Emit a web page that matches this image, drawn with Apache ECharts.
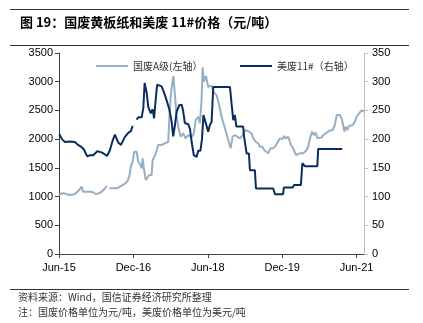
<!DOCTYPE html>
<html>
<head>
<meta charset="utf-8">
<script src="https://cdn.jsdelivr.net/npm/echarts@6/dist/echarts.min.js"></script>
<style>
  html, body { margin: 0; padding: 0; background: #fff; }
  #chart { width: 423px; height: 323px; }
</style>
</head>
<body>
<div id="chart"></div>
<script>
// 国废A级 (元/吨, 左轴)
const guofeiDates = [
  '2015-06-03','2015-06-20','2015-07-14','2015-08-08','2015-09-03','2015-09-27','2015-10-14','2015-11-03',
  '2015-11-16','2015-11-27','2016-01-16','2016-02-10','2016-02-28','2016-03-24','2016-04-11','2016-05-05',
  '2016-05-17','2016-05-25','2016-06-06','2016-07-30','2016-08-24','2016-09-23','2016-10-16','2016-11-01',
  '2016-11-13','2016-11-26','2016-12-07','2016-12-25','2017-01-07','2017-01-19','2017-02-01','2017-02-08',
  '2017-02-17','2017-03-01','2017-03-15','2017-03-26','2017-04-14','2017-04-21','2017-05-01','2017-05-10',
  '2017-05-20','2017-06-01','2017-06-26','2017-07-20','2017-08-14','2017-08-23','2017-09-04','2017-09-15',
  '2017-09-22','2017-10-03','2017-10-15','2017-10-27','2017-11-14','2017-12-03','2017-12-20','2018-01-09',
  '2018-02-04','2018-02-20','2018-03-03','2018-03-22','2018-04-04','2018-04-16','2018-04-24','2018-05-03',
  '2018-05-18','2018-06-04','2018-06-17','2018-06-29','2018-07-11','2018-08-05','2018-08-24','2018-09-11',
  '2018-10-06','2018-10-30','2018-11-17','2018-12-01','2018-12-18','2019-01-05','2019-01-25','2019-02-14',
  '2019-03-01','2019-03-13','2019-04-02','2019-04-19','2019-05-01','2019-05-19','2019-06-07','2019-06-20',
  '2019-07-07','2019-07-21','2019-08-03','2019-08-20','2019-09-07','2019-09-22','2019-10-09','2019-10-23',
  '2019-11-15','2019-11-27','2019-12-05','2019-12-16','2019-12-28','2020-01-15','2020-01-28','2020-02-05',
  '2020-02-21','2020-03-11','2020-03-23','2020-04-10','2020-04-24','2020-05-04','2020-05-29','2020-06-10',
  '2020-06-23','2020-07-09','2020-07-22','2020-08-06','2020-08-16','2020-08-30','2020-09-18','2020-09-29',
  '2020-10-19','2020-11-13','2020-12-08','2020-12-24','2021-01-07','2021-01-18','2021-01-30','2021-02-12',
  '2021-02-24','2021-03-02','2021-03-12','2021-03-24','2021-04-06','2021-04-18','2021-05-03','2021-05-19',
  '2021-06-01','2021-06-20','2021-07-08','2021-07-25'
];
const guofeiValues = [
  1030,1057,1055,1030,1030,1045,1085,1131,
  1172,1085,1085,1074,1045,1057,1085,1143,
  1184,null,1143,1143,1172,1213,1259,1346,
  1532,1607,1781,1781,1607,1567,1492,1666,
  1492,1288,1318,1375,1375,1636,1666,1724,
  1753,1898,1898,1927,1955,2400,2800,3000,
  3100,2750,2400,2216,2042,2100,2014,2072,
  2031,2100,2333,2390,2275,2681,3250,3000,
  3100,2913,2900,2930,2826,2768,2594,2390,
  2188,1985,1840,2042,2072,2042,2014,2072,
  2159,2130,2130,2100,2014,1955,1927,1868,
  1868,1811,1840,1753,1840,1840,1868,1860,
  2014,2042,2000,2054,2014,2042,1955,1898,
  1840,1724,1706,1753,1720,1753,1811,1868,
  2014,2130,2072,2112,2014,2031,2031,2072,
  2100,2147,2159,2246,2420,2449,2420,2362,
  2246,2130,2216,2159,2229,2210,2246,2304,
  2390,2449,2507,2478
];

// 美废11# (美元/吨, 右轴)
const meifeiDates = [
  '2015-06-03','2015-06-23','2015-07-14','2015-08-21','2015-09-27','2015-10-19','2015-11-16','2015-12-02',
  '2015-12-26','2016-01-16','2016-02-10','2016-03-09','2016-04-11','2016-05-21','2016-06-11','2016-07-01',
  '2016-07-17','2016-07-30','2016-08-11','2016-09-01','2016-09-30','2016-10-24','2016-11-13','2016-11-26',
  '2016-12-02','2016-12-25','2017-01-07','2017-02-01','2017-02-13','2017-02-23','2017-03-08','2017-03-19',
  '2017-04-07','2017-04-21','2017-05-01','2017-05-15','2017-05-24','2017-06-26','2017-07-08','2017-07-28',
  '2017-08-22','2017-09-09','2017-09-20','2017-10-03','2017-10-15','2017-11-04','2017-11-22','2017-12-03',
  '2017-12-15','2018-01-09','2018-01-22','2018-02-04','2018-02-20','2018-03-10','2018-03-22','2018-04-08',
  '2018-04-19','2018-04-30','2018-05-18','2018-06-04','2018-06-17','2018-06-29','2018-07-05','2018-07-11',
  '2018-11-12','2018-11-24','2018-12-06','2018-12-18','2018-12-29','2019-02-18','2019-02-25','2019-03-13',
  '2019-03-30','2019-04-07','2019-05-13','2019-05-21','2019-09-26','2019-10-09','2019-12-07','2019-12-14',
  '2020-02-19','2020-02-27','2020-04-17','2020-04-28','2020-05-16','2020-08-16','2020-08-23','2021-02-17'
];
const meifeiValues = [
  209,200,195,196,195,190,186,182,
  170,172,172,179,177,171,181,198,
  208,211,194,190,204,211,214,223,
  null,234,238,238,254,298,280,256,
  245,252,236,274,295,292,285,271,
  252,230,205,225,248,259,260,248,
  228,226,218,195,172,169,180,180,
  200,242,227,213,225,230,230,291,
  291,262,233,242,222,222,204,175,
  175,146,146,114,114,104,104,116,
  116,120,120,158,153,153,183,183
];

// x 轴刻度（自 2015 年 6 月起的月数）
const xTickMonths = [0, 18, 36, 54, 72];
const monthNames = ['Jan','Feb','Mar','Apr','May','Jun','Jul','Aug','Sep','Oct','Nov','Dec'];

function monthIndex(s) {
  const [y, m, d] = s.split('-').map(Number);
  return (y - 2015) * 12 + (m - 6) + (d - 1) / 30.4;
}
function monthLabel(v) {
  const total = 2015 * 12 + 5 + Math.round(v);
  const year = Math.floor(total / 12);
  return monthNames[total % 12] + '-' + String(year).slice(2);
}
function pairs(dates, values) {
  return dates.map((d, i) => [monthIndex(d), values[i] == null ? '-' : values[i]]);
}

const cjk = '"Noto Sans CJK SC", "Liberation Sans", sans-serif';
const latin = '"Liberation Sans", Arial, sans-serif';
const plain = v => String(v);

const chart = echarts.init(document.getElementById('chart'), null, { renderer: 'canvas' });
chart.setOption({
  animation: false,
  backgroundColor: '#fff',
  grid: { left: 59, right: 59, top: 53, bottom: 69 },
  legend: [
    {
      data: ['国废A级(左轴）'], left: 91, top: 56, icon: 'rect', itemWidth: 32, itemHeight: 2, itemGap: 4,
      textStyle: { fontFamily: cjk, fontSize: 10, color: '#333' }
    },
    {
      data: ['美废11#（右轴）'], left: 235, top: 56, icon: 'rect', itemWidth: 32, itemHeight: 2, itemGap: 4,
      textStyle: { fontFamily: cjk, fontSize: 10, color: '#333' }
    }
  ],
  xAxis: {
    type: 'value', min: 0, max: 73.8,
    splitLine: { show: false },
    axisLine: { lineStyle: { color: '#404040', width: 1 } },
    axisTick: { show: true, length: 4, customValues: xTickMonths, lineStyle: { color: '#404040' } },
    axisLabel: {
      customValues: xTickMonths, formatter: monthLabel, margin: 8,
      fontFamily: latin, fontSize: 11, color: '#000'
    }
  },
  yAxis: [
    {
      type: 'value', min: 0, max: 3500, interval: 500,
      splitLine: { show: false },
      axisLine: { show: true, lineStyle: { color: '#404040' } },
      axisTick: { show: true, length: 4, lineStyle: { color: '#404040' } },
      axisLabel: { formatter: plain, fontFamily: latin, fontSize: 11, color: '#000', margin: 6 }
    },
    {
      type: 'value', min: 0, max: 350, interval: 50,
      splitLine: { show: false },
      axisLine: { show: true, lineStyle: { color: '#BFBFBF' } },
      axisTick: { show: true, length: 4, lineStyle: { color: '#BFBFBF' } },
      axisLabel: { formatter: plain, fontFamily: latin, fontSize: 11, color: '#000', margin: 8 }
    }
  ],
  series: [
    {
      name: '国废A级(左轴）', type: 'line', yAxisIndex: 0, symbol: 'none',
      data: pairs(guofeiDates, guofeiValues),
      lineStyle: { color: '#97AFC4', width: 2 }, itemStyle: { color: '#97AFC4' }
    },
    {
      name: '美废11#（右轴）', type: 'line', yAxisIndex: 1, symbol: 'none',
      data: pairs(meifeiDates, meifeiValues),
      lineStyle: { color: '#0B2D5E', width: 2 }, itemStyle: { color: '#0B2D5E' }
    }
  ],
  graphic: [
    { type: 'line', shape: { x1: 10, y1: 9.5, x2: 409, y2: 9.5 }, style: { stroke: '#333', lineWidth: 1 } },
    {
      type: 'text', left: 20, top: 16,
      style: { text: '图 19：国废黄板纸和美废 11#价格（元/吨）', font: 'bold 13px ' + cjk, fill: '#000' }
    },
    { type: 'line', shape: { x1: 10, y1: 45.5, x2: 409, y2: 45.5 }, style: { stroke: '#333', lineWidth: 1 } },
    { type: 'line', shape: { x1: 10, y1: 289.5, x2: 409, y2: 289.5 }, style: { stroke: '#333', lineWidth: 1 } },
    {
      type: 'text', left: 18, top: 292,
      style: { text: '资料来源：Wind，国信证券经济研究所整理', font: '10px ' + cjk, fill: '#333' }
    },
    {
      type: 'text', left: 18, top: 307,
      style: { text: '注：国废价格单位为元/吨，美废价格单位为美元/吨', font: '10px ' + cjk, fill: '#333' }
    }
  ]
});
</script>
</body>
</html>
